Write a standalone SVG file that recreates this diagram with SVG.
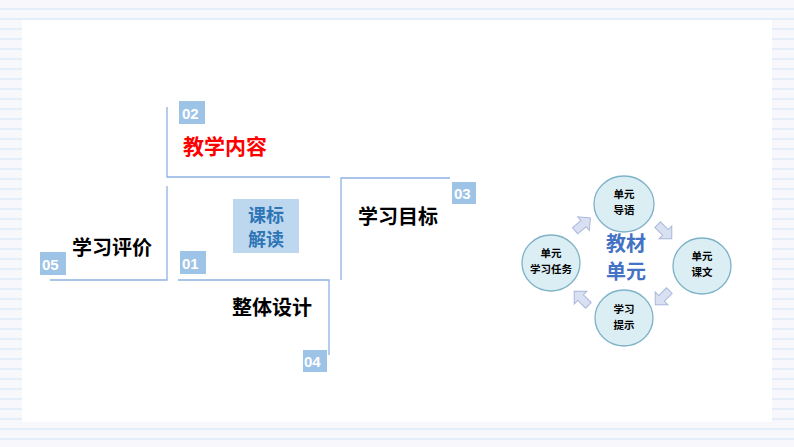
<svg xmlns="http://www.w3.org/2000/svg" width="794" height="447" viewBox="0 0 794 447">
<defs>
<style>
.ln{stroke:#8db3e2;stroke-width:1.3;fill:none}
.nb{fill:#9dc3e6}
.nt{font-family:"Liberation Sans",Arial,sans-serif;font-weight:bold;font-size:15px;fill:#fff}
.t{font-family:"Noto Sans CJK SC",sans-serif;font-weight:bold;font-size:20px;fill:#000}
.c{fill:#dbeef4;stroke:#7fb2c7;stroke-width:1.3}
.ct{font-family:"Noto Sans CJK SC",sans-serif;font-weight:bold;font-size:10.5px;fill:#000;text-anchor:middle}
.ar{fill:#d9e0f1;stroke:#a9b8dc;stroke-width:1}
</style>
<pattern id="p" width="10" height="10" patternUnits="userSpaceOnUse"><rect width="10" height="10" fill="#f8f7fc"/><line x1="0" y1="9" x2="10" y2="9" stroke="#dcecf7" stroke-width="1.5"/></pattern>
<path id="arr" d="M-9,-4 H2 V-9 L11,0 L2,9 V4 H-9 Z"/>
</defs>
<rect width="794" height="447" fill="url(#p)"/>
<rect x="22" y="20" width="750" height="402" fill="#fff"/>
<g id="connectors">
<path class="ln" d="M167,107 V177 H330"/>
<path class="ln" d="M341,280 V178 H450"/>
<path class="ln" d="M50,280 H167 V186"/>
<path class="ln" d="M178,280 H329 V355"/>
</g>
<g id="n02"><rect class="nb" x="179" y="101" width="26" height="23"/><text class="nt" x="182" y="119">02</text><text class="t" x="183" y="154" style="fill:#f00;font-size:21px">教学内容</text></g>
<g id="n03"><rect class="nb" x="452" y="182" width="24" height="22"/><text class="nt" x="454" y="199">03</text><text class="t" x="358" y="224">学习目标</text></g>
<g id="n05"><rect class="nb" x="40" y="252" width="26" height="23"/><text class="nt" x="42" y="270">05</text><text class="t" x="72" y="255">学习评价</text></g>
<g id="n01"><rect class="nb" x="180" y="251" width="26" height="23"/><text class="nt" x="182" y="269">01</text>
<rect x="233" y="199" width="66" height="54" fill="#bdd7ee"/><text class="t" x="266" y="222" text-anchor="middle" style="fill:#2e75b6;font-size:18px">课标</text><text class="t" x="266" y="246" text-anchor="middle" style="fill:#2e75b6;font-size:18px">解读</text></g>
<g id="n04"><rect class="nb" x="303" y="350" width="24" height="22"/><text class="nt" x="304" y="367">04</text><text class="t" x="232" y="315">整体设计</text></g>
<g id="cycle">
<use href="#arr" class="ar" transform="translate(582,225) rotate(-40)"/>
<use href="#arr" class="ar" transform="translate(664,231) rotate(45)"/>
<use href="#arr" class="ar" transform="translate(663,297) rotate(135)"/>
<use href="#arr" class="ar" transform="translate(582,299) rotate(-135)"/>
<g id="c1"><ellipse class="c" cx="624" cy="204" rx="30" ry="28"/><text class="ct" x="624" y="198">单元</text><text class="ct" x="624" y="214">导语</text></g>
<g id="c2"><ellipse class="c" cx="702" cy="266" rx="29" ry="28"/><text class="ct" x="702" y="260">单元</text><text class="ct" x="702" y="276">课文</text></g>
<g id="c3"><ellipse class="c" cx="624" cy="318" rx="29" ry="28"/><text class="ct" x="624" y="313">学习</text><text class="ct" x="624" y="329">提示</text></g>
<g id="c4"><ellipse class="c" cx="551" cy="263" rx="29" ry="28"/><text class="ct" x="551" y="257">单元</text><text class="ct" x="551" y="273">学习任务</text></g>
<text class="t" x="626" y="251" text-anchor="middle" style="fill:#4472c4">教材</text>
<text class="t" x="626" y="279" text-anchor="middle" style="fill:#4472c4">单元</text>
</g>
</svg>
